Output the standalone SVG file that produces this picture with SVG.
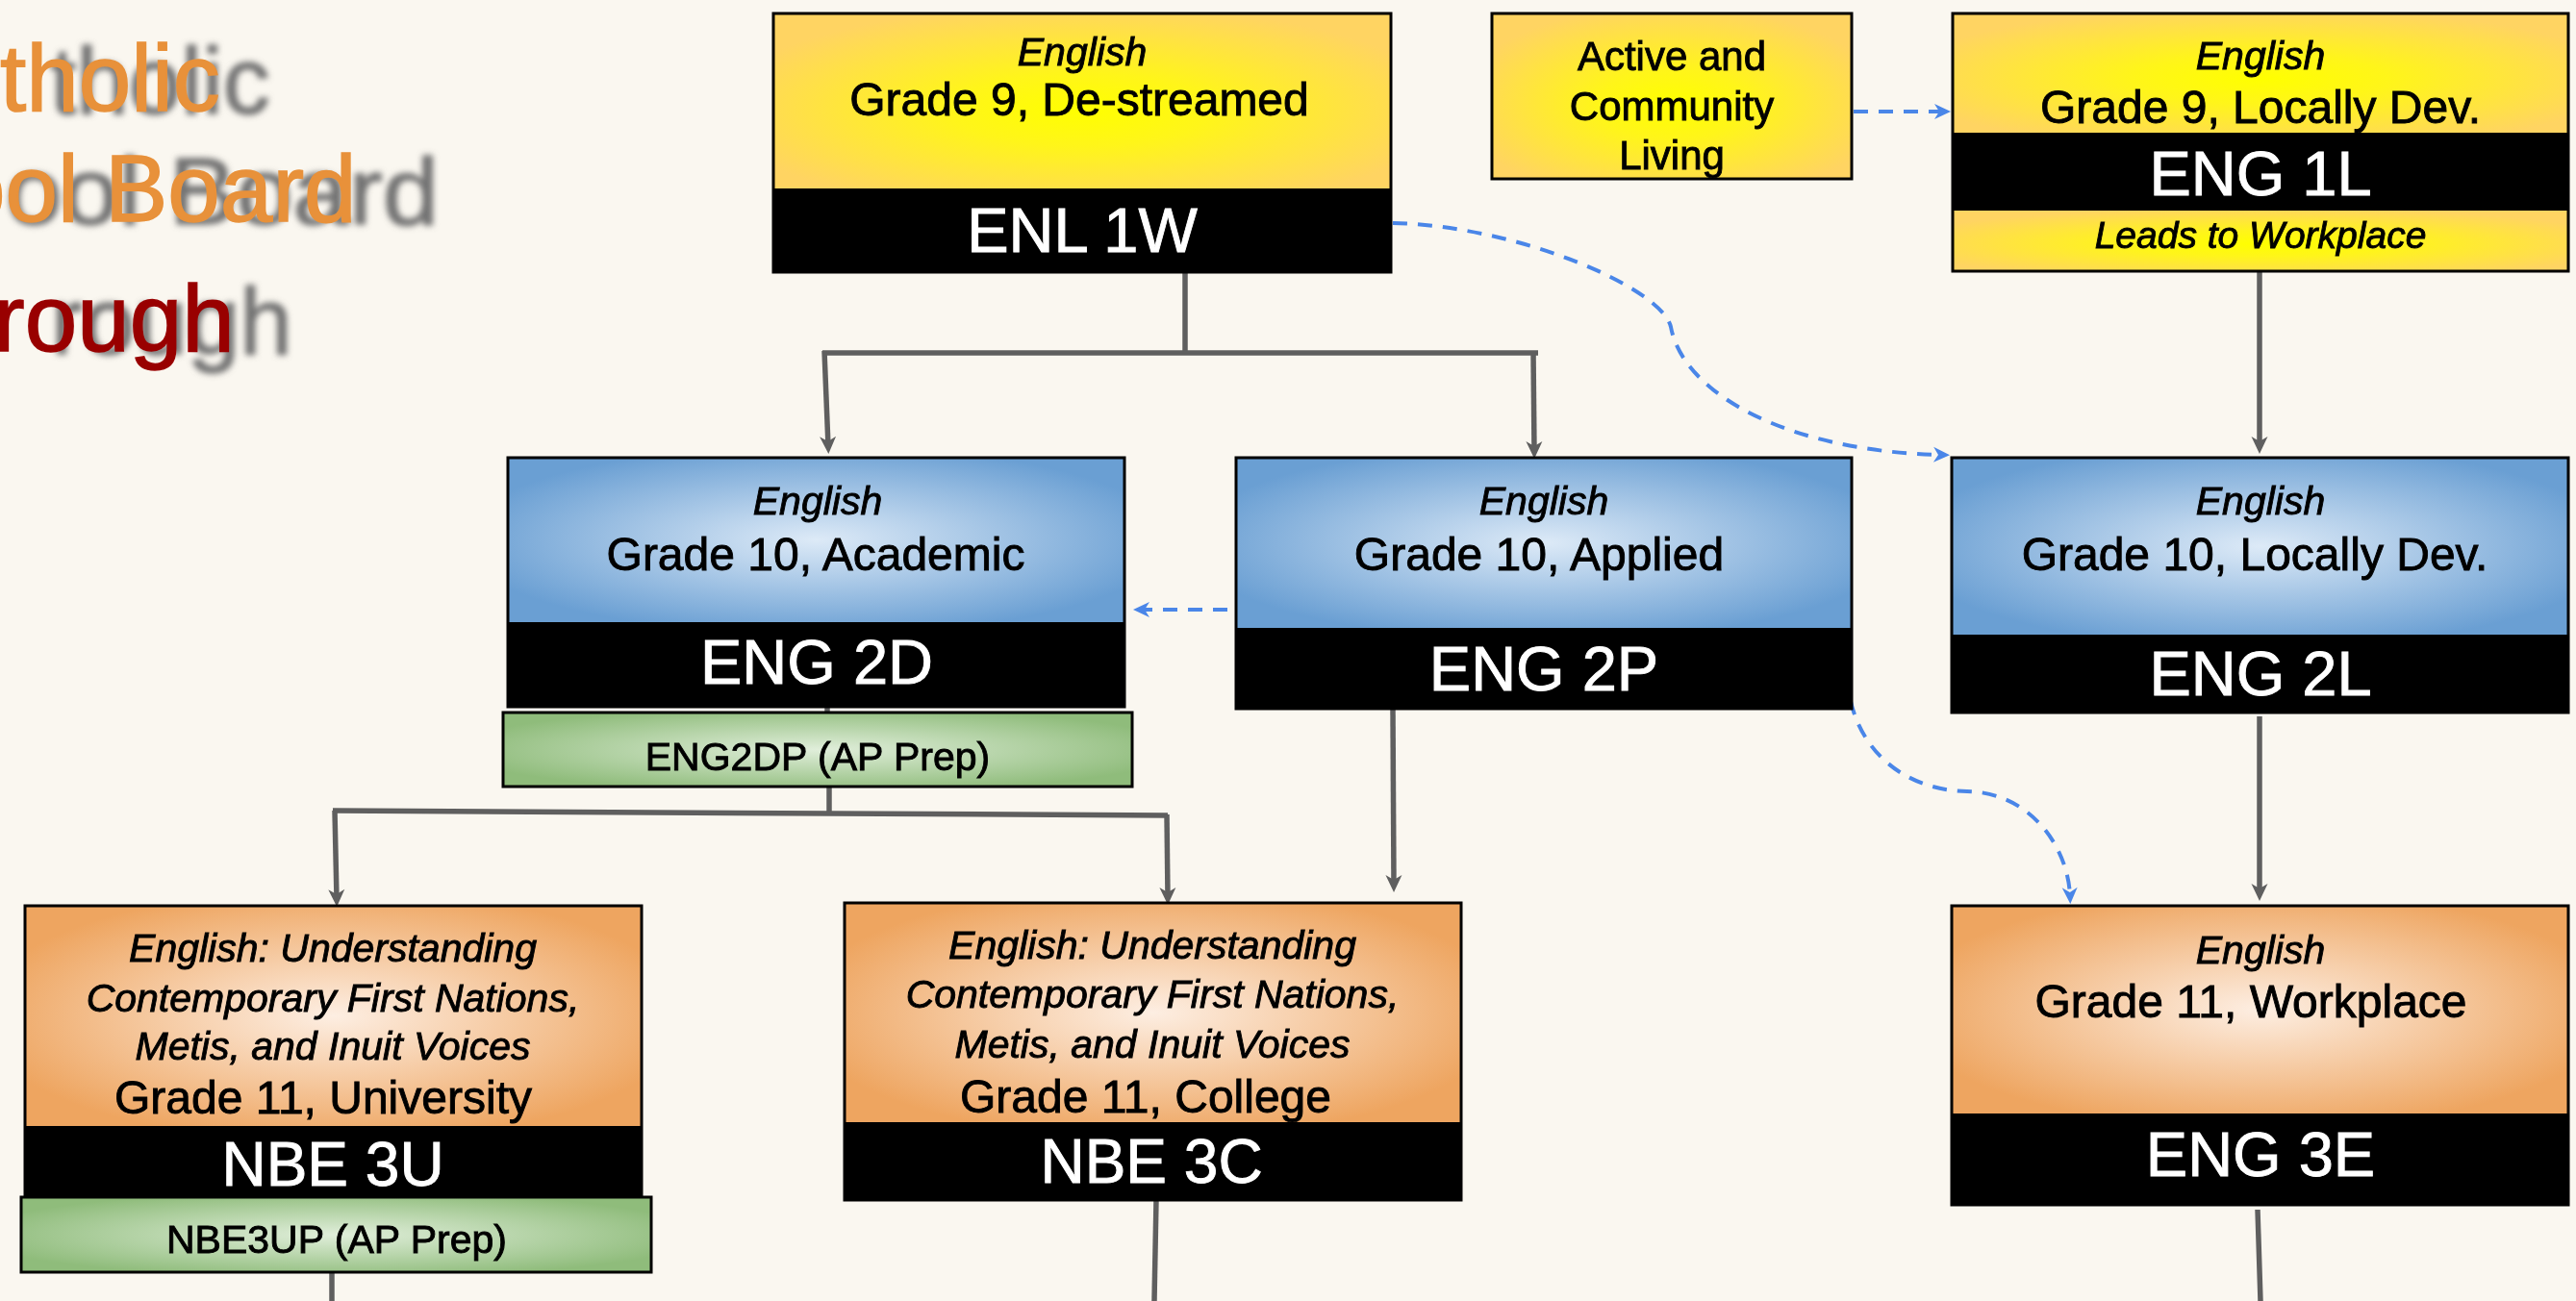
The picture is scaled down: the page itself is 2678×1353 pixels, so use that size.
<svg xmlns="http://www.w3.org/2000/svg" width="2678" height="1353" viewBox="0 0 2678 1353">
<style>
.t{font-family:"Liberation Sans",Arial,Helvetica,sans-serif;text-anchor:middle;fill:#000;stroke:#000;stroke-width:0.9px}
.it{font-style:italic;font-size:41px}
.gr{font-size:48px}
.code{font-size:65px;fill:#fff;stroke:#fff}
.ap{font-size:41px}
.acl{font-size:42px}
.box{fill:none;stroke:#000;stroke-width:3}
.blk{fill:#000}
.conn{stroke:#5f5f5f;stroke-width:5.5;fill:none}
.dash{stroke:#4A86E8;stroke-width:4;fill:none;stroke-dasharray:15 11}
.ttl{font-family:"Liberation Sans",Arial,Helvetica,sans-serif;font-size:98px}
</style>
<defs>
<radialGradient id="gy" cx="0.5" cy="0.55" r="0.6">
<stop offset="0" stop-color="#FFFF00"/><stop offset="0.35" stop-color="#FFF51A"/><stop offset="1" stop-color="#FFD462"/>
</radialGradient>
<radialGradient id="gb" cx="0.5" cy="0.5" r="0.58">
<stop offset="0" stop-color="#DDEAF7"/><stop offset="1" stop-color="#6A9FD3"/>
</radialGradient>
<radialGradient id="go" cx="0.5" cy="0.5" r="0.58">
<stop offset="0" stop-color="#FDEEE2"/><stop offset="1" stop-color="#EEA560"/>
</radialGradient>
<radialGradient id="gg" cx="0.5" cy="0.5" r="0.58">
<stop offset="0" stop-color="#E0EEDA"/><stop offset="1" stop-color="#8FBC7B"/>
</radialGradient>
<filter id="blur" x="-10%" y="-30%" width="130%" height="160%"><feGaussianBlur stdDeviation="3"/></filter>
<marker id="ag" viewBox="-12 -10 22 20" markerWidth="22" markerHeight="20" refX="0" refY="0" markerUnits="userSpaceOnUse" orient="auto" overflow="visible">
<path d="M8,0 L-10,-8.5 L-5,0 L-10,8.5 Z" fill="#5f5f5f"/>
</marker>
<marker id="ab" viewBox="-12 -10 22 20" markerWidth="22" markerHeight="20" refX="0" refY="0" markerUnits="userSpaceOnUse" orient="auto" overflow="visible">
<path d="M8,0 L-9,-8 L-4,0 L-9,8 Z" fill="#4A86E8"/>
</marker>
</defs>
<rect x="0" y="0" width="2678" height="1353" fill="#FAF7F0"/>

<g id="title">
<g filter="url(#blur)" fill="#727272" stroke="#727272" stroke-width="1.5" class="ttl">
<text x="52" y="118">tholic</text>
<text x="-49" y="233" transform="matrix(1.073 0 0 1 58.8 0)">ool Board</text>
<text x="53" y="368">rough</text>
</g>
<text class="ttl" x="0" y="115" fill="#E8913A" stroke="#E8913A" stroke-width="1.5">tholic</text>
<text class="ttl" x="-49" y="230" fill="#E8913A" stroke="#E8913A" stroke-width="1.5">ool Board</text>
<text class="ttl" x="-7" y="365" fill="#990000" stroke="#990000" stroke-width="1.5">rough</text>
</g>

<g id="connectors">
<path class="conn" d="M1232,284 V367"/>
<path class="conn" d="M855,367 H1599"/>
<path class="conn" d="M857,365 L861,464" marker-end="url(#ag)"/>
<path class="conn" d="M1594,365 L1595,469" marker-end="url(#ag)"/>
<path class="conn" d="M2349,283 V464" marker-end="url(#ag)"/>
<path class="conn" d="M1448,737 L1449,920" marker-end="url(#ag)"/>
<path class="conn" d="M860,735 V741"/>
<path class="conn" d="M862,818 V846"/>
<path class="conn" d="M346,843 L1214,848"/>
<path class="conn" d="M348,843 L350,935" marker-end="url(#ag)"/>
<path class="conn" d="M1213,847 L1214,933" marker-end="url(#ag)"/>
<path class="conn" d="M2349,745 V929" marker-end="url(#ag)"/>
<path class="conn" d="M2347,1258 L2350,1353"/>
<path class="conn" d="M1202,1248 L1200,1353"/>
<path class="conn" d="M345,1323 V1353"/>
<path class="dash" d="M1927,116 H2020" marker-end="url(#ab)"/>
<path class="dash" d="M1276,634 H1186" marker-end="url(#ab)"/>
<path class="dash" d="M1448,232 C1580,235 1728,300 1737,340 C1750,410 1860,470 2019,473" marker-end="url(#ab)"/>
<path class="dash" d="M1920,703 C1925,780 1980,822 2045,823 C2110,824 2150,880 2152,932" marker-end="url(#ab)"/>
</g>

<g id="n-enl1w">
<rect x="804" y="14" width="642" height="182" fill="url(#gy)"/>
<rect class="blk" x="804" y="196" width="642" height="87"/>
<rect class="box" x="804" y="14" width="642" height="269"/>
<text class="t it" x="1125" y="68">English</text>
<text class="t gr" x="1122" y="120">Grade 9, De-streamed</text>
<text class="t code" x="1125" y="262">ENL 1W</text>
</g>

<g id="n-active">
<rect x="1551" y="14" width="374" height="172" fill="url(#gy)"/>
<rect class="box" x="1551" y="14" width="374" height="172"/>
<text class="t acl" x="1738" y="73">Active and</text>
<text class="t acl" x="1738" y="125">Community</text>
<text class="t acl" x="1738" y="176">Living</text>
</g>

<g id="n-eng1l">
<rect x="2030" y="14" width="640" height="124" fill="url(#gy)"/>
<rect class="blk" x="2030" y="138" width="640" height="81"/>
<rect x="2030" y="219" width="640" height="63" fill="url(#gy)"/>
<rect class="box" x="2030" y="14" width="640" height="268"/>
<text class="t it" x="2350" y="72">English</text>
<text class="t gr" x="2350" y="128">Grade 9, Locally Dev.</text>
<text class="t code" x="2350" y="203">ENG 1L</text>
<text class="t it" x="2350" y="258" style="font-size:39px">Leads to Workplace</text>
</g>

<g id="n-eng2d">
<rect x="528" y="476" width="641" height="171" fill="url(#gb)"/>
<rect class="blk" x="528" y="647" width="641" height="88"/>
<rect class="box" x="528" y="476" width="641" height="259"/>
<text class="t it" x="850" y="535">English</text>
<text class="t gr" x="848" y="593">Grade 10, Academic</text>
<text class="t code" x="849" y="711">ENG 2D</text>
</g>

<g id="n-eng2dp">
<rect x="523" y="741" width="654" height="77" fill="url(#gg)"/>
<rect class="box" x="523" y="741" width="654" height="77"/>
<text class="t ap" x="850" y="801">ENG2DP (AP Prep)</text>
</g>

<g id="n-eng2p">
<rect x="1285" y="476" width="640" height="177" fill="url(#gb)"/>
<rect class="blk" x="1285" y="653" width="640" height="84"/>
<rect class="box" x="1285" y="476" width="640" height="261"/>
<text class="t it" x="1605" y="535">English</text>
<text class="t gr" x="1600" y="593">Grade 10, Applied</text>
<text class="t code" x="1605" y="718">ENG 2P</text>
</g>

<g id="n-eng2l">
<rect x="2029" y="476" width="641" height="184" fill="url(#gb)"/>
<rect class="blk" x="2029" y="660" width="641" height="81"/>
<rect class="box" x="2029" y="476" width="641" height="265"/>
<text class="t it" x="2350" y="535">English</text>
<text class="t gr" x="2344" y="593">Grade 10, Locally Dev.</text>
<text class="t code" x="2350" y="723">ENG 2L</text>
</g>

<g id="n-eng3e">
<rect x="2029" y="942" width="641" height="216" fill="url(#go)"/>
<rect class="blk" x="2029" y="1158" width="641" height="95"/>
<rect class="box" x="2029" y="942" width="641" height="311"/>
<text class="t it" x="2350" y="1002">English</text>
<text class="t gr" x="2340" y="1058">Grade 11, Workplace</text>
<text class="t code" x="2350" y="1223">ENG 3E</text>
</g>

<g id="n-nbe3u">
<rect x="26" y="942" width="641" height="229" fill="url(#go)"/>
<rect class="blk" x="26" y="1171" width="641" height="74"/>
<rect class="box" x="26" y="942" width="641" height="303"/>
<text class="t it" x="346" y="1000">English: Understanding</text>
<text class="t it" x="346" y="1052">Contemporary First Nations,</text>
<text class="t it" x="346" y="1102">Metis, and Inuit Voices</text>
<text class="t gr" x="336" y="1158">Grade 11, University</text>
<text class="t code" x="346" y="1233" style="font-size:64px">NBE 3U</text>
</g>

<g id="n-nbe3up">
<rect x="22" y="1245" width="655" height="78" fill="url(#gg)"/>
<rect class="box" x="22" y="1245" width="655" height="78"/>
<text class="t ap" x="350" y="1303">NBE3UP (AP Prep)</text>
</g>

<g id="n-nbe3c">
<rect x="878" y="939" width="641" height="228" fill="url(#go)"/>
<rect class="blk" x="878" y="1167" width="641" height="81"/>
<rect class="box" x="878" y="939" width="641" height="309"/>
<text class="t it" x="1198" y="997">English: Understanding</text>
<text class="t it" x="1198" y="1048">Contemporary First Nations,</text>
<text class="t it" x="1198" y="1100">Metis, and Inuit Voices</text>
<text class="t gr" x="1191" y="1157">Grade 11, College</text>
<text class="t code" x="1197" y="1230" style="font-size:64px">NBE 3C</text>
</g>
</svg>
